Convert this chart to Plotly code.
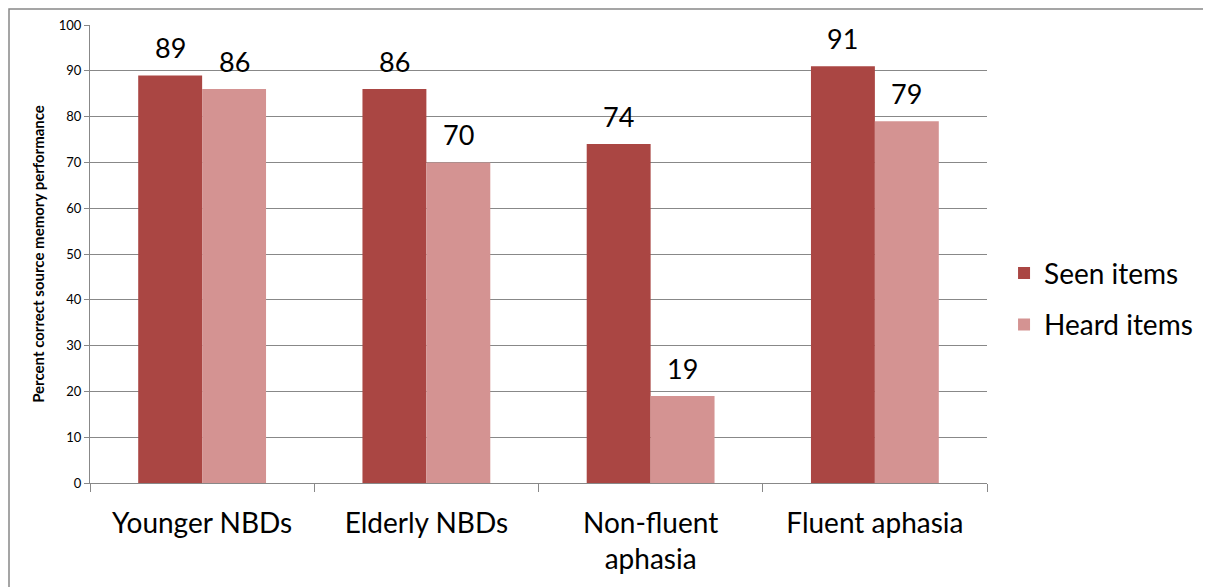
import plotly.graph_objects as go

categories = ["Younger NBDs", "Elderly NBDs", "Non-fluent<br>aphasia", "Fluent aphasia"]
seen_items = [89, 86, 74, 91]
heard_items = [86, 70, 19, 79]
series_names = ["Seen items", "Heard items"]

FONT = "Lato"
W, H = 1203, 579
L, T = 82, 17
pw, ph = 897, 458
R, B = W - L - pw, H - T - ph
BARGAP = 0.43

fig = go.Figure()
fig.add_trace(go.Bar(x=categories, y=seen_items, name=series_names[0],
                     legendgroup="a",
                     marker=dict(color="#AA4643", line=dict(width=0))))
fig.add_trace(go.Bar(x=categories, y=heard_items, name=series_names[1],
                     legendgroup="b",
                     marker=dict(color="#D49392", line=dict(width=0))))

# value labels above bars (offset to each bar of the group)
bar_px = pw / len(categories) * (1 - BARGAP) / 2
for vals, sign in ((seen_items, -1), (heard_items, 1)):
    for c, v in zip(categories, vals):
        fig.add_annotation(x=c, y=v, xref="x", yref="y", text=str(v),
                           showarrow=False, xshift=sign * bar_px / 2,
                           yshift=9, yanchor="bottom",
                           font=dict(size=27, color="black", family=FONT))

fig.update_layout(
    width=W, height=H,
    margin=dict(l=L, r=R, t=T, b=B, autoexpand=False),
    paper_bgcolor="white", plot_bgcolor="white",
    barmode="group", bargap=BARGAP, bargroupgap=0,
    font=dict(family=FONT, color="black"),
    legend=dict(x=1.019, y=0.402, xanchor="left", yanchor="middle",
                font=dict(size=28, family=FONT), tracegroupgap=12,
                itemwidth=30),
)
fig.update_xaxes(
    showline=True, linecolor="#888888", linewidth=1,
    ticks="outside", tickson="boundaries", ticklen=8, tickcolor="#888888",
    tickfont=dict(size=28, family=FONT), showgrid=False,
    ticklabelstandoff=15,
)
fig.update_yaxes(
    range=[0, 100], dtick=10, showgrid=True, gridcolor="#888888", gridwidth=1,
    showline=True, linecolor="#888888", linewidth=1,
    ticks="outside", ticklen=5, tickcolor="#888888",
    tickfont=dict(size=13, family=FONT), zeroline=False,
    title=dict(text="<b>Percent correct source memory performance</b>",
               font=dict(size=15, family=FONT), standoff=10),
)
# outer chart frame
fig.add_shape(type="rect", xref="paper", yref="paper",
              x0=(1 - L) / pw, x1=(W + 20 - L) / pw,
              y0=-(B + 20) / ph, y1=(H - B - 1) / ph,
              line=dict(color="#888888", width=1.5), layer="below")

fig.write_html("out.html")
